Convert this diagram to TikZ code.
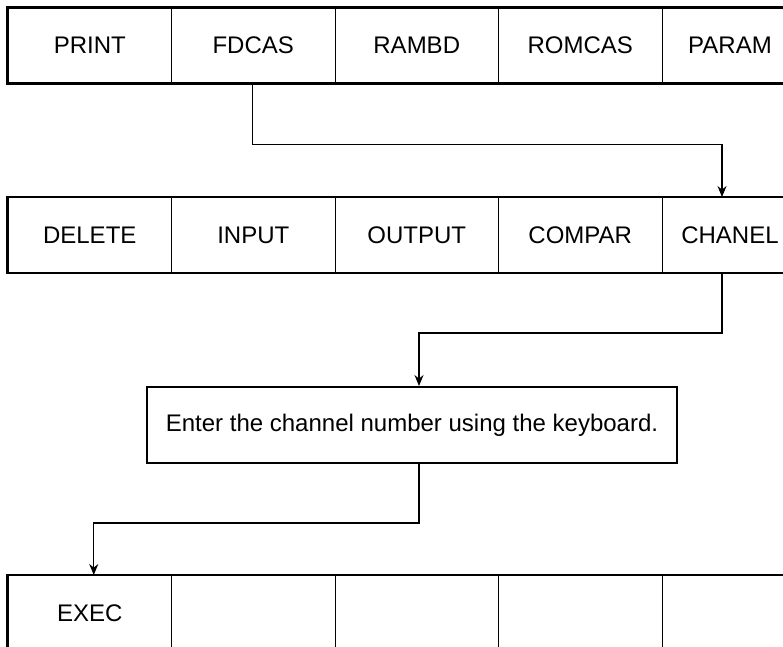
\documentclass[tikz,border=0pt]{standalone}
\usepackage{fontspec}
\setmainfont{Liberation Sans}
\usetikzlibrary{arrows.meta}
\tikzset{
    softkey/.style={draw, line width=1pt, minimum width=163.5pt, minimum height=75pt, inner sep=0pt, font=\fontsize{24}{28}\selectfont},
    lastkey/.style={softkey, minimum width=136pt},
    keyrow/.style={draw, line width=2.2pt},
    prompt/.style={draw, line width=2pt, minimum width=530pt, minimum height=76pt, inner sep=0pt, font=\fontsize{24}{28}\selectfont},
    link/.style={line width=1.2pt, -{Stealth[length=11pt, width=9pt]}},
    }

\begin{document}
\begin{tikzpicture}[x=1pt, y=-1pt]
    \useasboundingbox (0,0) rectangle (783,646);
    \clip (0,0) rectangle (783,646);

    % first row of soft keys
    \node[softkey] (print)  at (89.75,45.5)  {PRINT};
    \node[softkey] (fdcas)  at (253.25,45.5) {FDCAS};
    \node[softkey] (rambd)  at (416.75,45.5) {RAMBD};
    \node[softkey] (romcas) at (580.25,45.5) {ROMCAS};
    \node[lastkey] (param)  at (730,45.5)    {PARAM};
    \draw[keyrow] (print.north west) rectangle (param.south east);

    % second row of soft keys
    \node[softkey] (delete) at (89.75,235)  {DELETE};
    \node[softkey] (input)  at (253.25,235) {INPUT};
    \node[softkey] (output) at (416.75,235) {OUTPUT};
    \node[softkey] (compar) at (580.25,235) {COMPAR};
    \node[lastkey] (chanel) at (730,235)    {CHANEL};
    \draw[keyrow] (delete.north west) rectangle (chanel.south east);

    % keyboard entry
    \node[prompt] (entry) at (412,425) {Enter the channel number using the keyboard.};

    % last row of soft keys
    \node[softkey] (exec)   at (89.75,613)  {EXEC};
    \node[softkey] (blank1) at (253.25,613) {};
    \node[softkey] (blank2) at (416.75,613) {};
    \node[softkey] (blank3) at (580.25,613) {};
    \node[lastkey] (blank4) at (730,613)    {};
    \draw[keyrow] (exec.north west) rectangle (blank4.south east);

    % key sequence
    \draw[link] ([xshift=-1pt]fdcas.south) -- ++(0,61) -| ([xshift=-8pt]chanel.north);
    \draw[link] ([xshift=-8pt]chanel.south) -- ++(0,60) -| ([xshift=7pt]entry.north);
    \draw[link] ([xshift=7pt]entry.south) -- ++(0,59) -| ([xshift=4pt]exec.north);

    \end{tikzpicture}
\end{document}
